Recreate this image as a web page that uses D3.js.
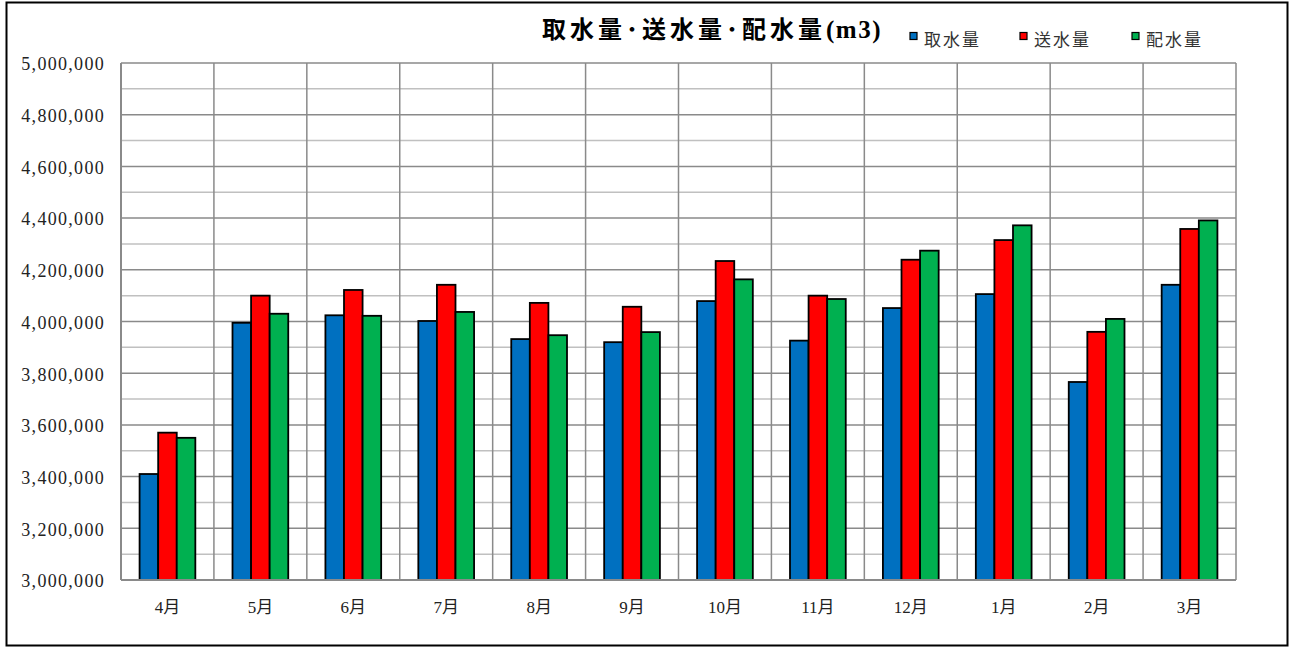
<!DOCTYPE html>
<html><head><meta charset="utf-8">
<script src="https://cdn.jsdelivr.net/npm/d3@7"></script>
<style>body{margin:0;background:#fff}svg{display:block}</style>
</head><body><svg id="c" width="1296" height="648"></svg>
<script>
const months = ["4月","5月","6月","7月","8月","9月","10月","11月","12月","1月","2月","3月"];
const seriesNames = ["取水量","送水量","配水量"];
const seriesColors = ["#0070C0","#FF0000","#00B050"];
const intake   = [3410000,3995000,4024000,4002000,3932000,3920000,4079000,3926000,4052000,4106000,3766000,4142000];
const transmit = [3570000,4100000,4122000,4142000,4072000,4057000,4234000,4100000,4239000,4315000,3960000,4358000];
const distrib  = [3550000,4030000,4022000,4037000,3947000,3959000,4163000,4087000,4274000,4372000,4010000,4391000];
const yTicks = [3000000,3200000,3400000,3600000,3800000,4000000,4200000,4400000,4600000,4800000,5000000];
const titleMain = "取水量･送水量･配水量";
const titleUnit = "(m3)";

const series = [intake, transmit, distrib];
const svg = d3.select("#c");
const serif = "'Liberation Serif','Noto Sans CJK JP',serif";
const cjk = "'Noto Sans CJK JP','Liberation Serif',sans-serif";

svg.append("rect").attr("x",6.5).attr("y",2.5).attr("width",1281).attr("height",643)
  .attr("fill","#fff").attr("stroke","#000").attr("stroke-width",2);

const L=121,R=1236,T=63,B=580;
const x = d3.scaleBand().domain(months).range([L,R]);
const xi = d3.scaleBand().domain([0,1,2]).range([0,x.bandwidth()*0.6]);
const y = d3.scaleLinear().domain([3000000,5000000]).range([B,T]);

// minor grid
const minor = d3.range(3100000,5000000,200000);
svg.append("g").selectAll("line").data(minor).join("line")
  .attr("x1",L).attr("x2",R).attr("y1",d=>y(d)).attr("y2",d=>y(d))
  .attr("stroke","#c0c0c0").attr("stroke-width",1.5);
// major grid
svg.append("g").selectAll("line").data(yTicks).join("line")
  .attr("x1",L).attr("x2",R).attr("y1",d=>y(d)).attr("y2",d=>y(d))
  .attr("stroke","#8a8a8a").attr("stroke-width",1.5);
// vertical grid
svg.append("g").selectAll("line").data(months.slice(1).concat(["end"])).join("line")
  .attr("x1",(d,i)=>i<months.length-1?x(d):R).attr("x2",(d,i)=>i<months.length-1?x(d):R)
  .attr("y1",T).attr("y2",B).attr("stroke","#8a8a8a").attr("stroke-width",1.5);

// bars
const off = (x.bandwidth()-x.bandwidth()*0.6)/2;
series.forEach((vals,si)=>{
  svg.append("g").selectAll("rect").data(vals).join("rect")
    .attr("x",(d,i)=>x(months[i])+off+xi(si))
    .attr("y",d=>y(d)).attr("width",xi.bandwidth()).attr("height",d=>B-y(d))
    .attr("fill",seriesColors[si]).attr("stroke","#000").attr("stroke-width",1.8);
});

// axes lines
svg.append("line").attr("x1",L).attr("x2",L).attr("y1",T).attr("y2",B).attr("stroke","#8a8a8a").attr("stroke-width",2);
svg.append("line").attr("x1",L).attr("x2",R).attr("y1",B).attr("y2",B).attr("stroke","#8a8a8a").attr("stroke-width",2);

// y labels
const fmt = d3.format(",");
svg.append("g").selectAll("text").data(yTicks).join("text")
  .attr("x",105).attr("y",d=>y(d)+1).attr("dy","0.35em").attr("text-anchor","end")
  .attr("font-family",serif).attr("font-size",18).attr("letter-spacing",1.3).attr("fill","#222").text(d=>fmt(d));
// x labels
svg.append("g").selectAll("text").data(months).join("text")
  .attr("x",d=>x(d)+x.bandwidth()/2).attr("y",607).attr("dy","0.35em").attr("text-anchor","middle")
  .attr("font-family",serif).attr("font-size",17).attr("fill","#222").text(d=>d);

// title
const tt = svg.append("text").attr("x",542).attr("y",32).attr("dy","0.35em")
  .attr("font-weight","bold").attr("fill","#000");
tt.append("tspan").attr("font-family",cjk).attr("font-size",24).attr("letter-spacing",4).text(titleMain);
tt.append("tspan").attr("font-family","'Liberation Serif',serif").attr("font-size",25).attr("letter-spacing",1.5).text(titleUnit);

// legend
const lx=[910,1020,1132];
seriesNames.forEach((n,i)=>{
  svg.append("rect").attr("x",lx[i]).attr("y",32.5).attr("width",7).attr("height",7)
    .attr("fill",seriesColors[i]).attr("stroke","#000").attr("stroke-width",1.2);
  svg.append("text").attr("x",lx[i]+14).attr("y",40).attr("dy","0.35em")
    .attr("font-family",cjk).attr("font-size",17).attr("letter-spacing",2).attr("fill","#333").text(n);
});
</script></body></html>
